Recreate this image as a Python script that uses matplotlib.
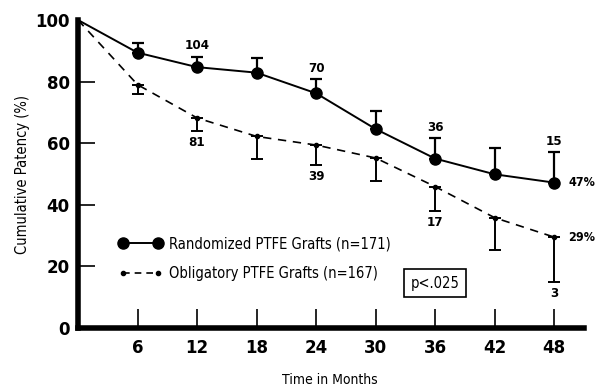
import matplotlib
matplotlib.use("Agg")
import matplotlib.pyplot as plt
from matplotlib import font_manager
from matplotlib.lines import Line2D

# ── Data ──────────────────────────────────────────────────────────────────────

months = [0, 6, 12, 18, 24, 30, 36, 42, 48]
randomized = [100, 89.4, 84.7, 82.9, 76.2, 64.6, 55.0, 49.9, 47.2]
randomized_err_up = [0, 3.2, 3.3, 4.8, 4.5, 6.0, 6.6, 8.7, 9.8]
obligatory = [100, 79.0, 68.2, 62.2, 59.4, 55.2, 45.9, 35.8, 29.5]
obligatory_err_down = [0, 3.0, 4.4, 7.2, 6.5, 7.5, 8.0, 10.4, 14.7]

# numbers at risk
rand_n_months = [12, 24, 36, 48]
rand_n = ["104", "70", "36", "15"]
obl_n_months = [12, 24, 36, 48]
obl_n = ["81", "39", "17", "3"]
end_labels = ["47%", "29%"]

x_ticks = [6, 12, 18, 24, 30, 36, 42, 48]
y_ticks = [0, 20, 40, 60, 80, 100]


def narrow(size, weight="normal"):
    return font_manager.FontProperties(family="DejaVu Sans", stretch="condensed",
                                       size=size, weight=weight)


# ── Figure ────────────────────────────────────────────────────────────────────

fig = plt.figure(figsize=(6.04, 3.90), dpi=100)
ax = fig.add_axes([78 / 604, 1 - 328 / 390, 506 / 604, 308 / 390])

ax.errorbar(months[1:], randomized[1:],
            yerr=[[0] * 8, randomized_err_up[1:]],
            fmt="none", ecolor="black", elinewidth=1.6, capsize=4, capthick=1.6)
ax.plot(months, randomized, color="black", linewidth=1.4)
ax.plot(months[1:], randomized[1:], "o", color="black", markersize=8)

ax.errorbar(months[1:], obligatory[1:],
            yerr=[obligatory_err_down[1:], [0] * 8],
            fmt="none", ecolor="black", elinewidth=1.4, capsize=4, capthick=1.4)
ax.plot(months, obligatory, color="black", linewidth=1.2,
        linestyle=(0, (5, 4)))
ax.plot(months[1:], obligatory[1:], "o", color="black", markersize=3)

# number-at-risk labels
for m, t in zip(rand_n_months, rand_n):
    i = months.index(m)
    ax.text(m, randomized[i] + randomized_err_up[i] + 1.5, t,
            ha="center", va="bottom", fontproperties=narrow(9.5, "bold"))
for m, t in zip(obl_n_months, obl_n):
    i = months.index(m)
    ax.text(m, obligatory[i] - obligatory_err_down[i] - 1.5, t,
            ha="center", va="top", fontproperties=narrow(9.5, "bold"))

ax.text(months[-1] + 1.4, randomized[-1], end_labels[0],
        ha="left", va="center", fontproperties=narrow(9, "bold"))
ax.text(months[-1] + 1.4, obligatory[-1], end_labels[1],
        ha="left", va="center", fontproperties=narrow(9, "bold"))

ax.text(36, 14.5, "p<.025", ha="center", va="center",
        fontproperties=narrow(10.5),
        bbox=dict(boxstyle="square,pad=0.45", facecolor="white",
                  edgecolor="black", linewidth=1.2))

handles = [
    Line2D([], [], color="black", linewidth=1.4, marker="o", markersize=8),
    Line2D([], [], color="black", linewidth=1.2, linestyle=(0, (4, 3)),
           marker="o", markersize=3),
]
ax.legend(handles, ["Randomized PTFE Grafts (n=171)",
                    "Obligatory PTFE Grafts (n=167)"],
          numpoints=2, handlelength=3.0, handletextpad=0.4, frameon=False,
          loc="upper left", bbox_to_anchor=(0.055, 0.34),
          prop=narrow(10.5), labelspacing=1.0)

ax.set_xlim(0, 51)
ax.set_ylim(0, 100)
ax.set_xticks(x_ticks)
ax.set_yticks(y_ticks)
ax.tick_params(axis="x", direction="in", length=14, width=1.2, pad=8,
               labelsize=12)
ax.tick_params(axis="y", direction="in", length=12, width=1.2, pad=6,
               labelsize=12)
ax.yaxis.get_major_ticks()[-1].tick1line.set_visible(False)
for lab in ax.get_xticklabels() + ax.get_yticklabels():
    lab.set_fontweight("bold")

for side in ["top", "right"]:
    ax.spines[side].set_visible(False)
ax.spines["left"].set_linewidth(4)
ax.spines["bottom"].set_linewidth(4)

ax.set_ylabel("Cumulative Patency (%)", fontproperties=narrow(10.5))
ax.yaxis.set_label_coords((30 - 78) / 506, 0.5)
fig.text(330 / 604, 1 - 380 / 390, "Time in Months", ha="center",
         va="center", fontproperties=narrow(10))

fig.savefig("out.png", dpi=100)
